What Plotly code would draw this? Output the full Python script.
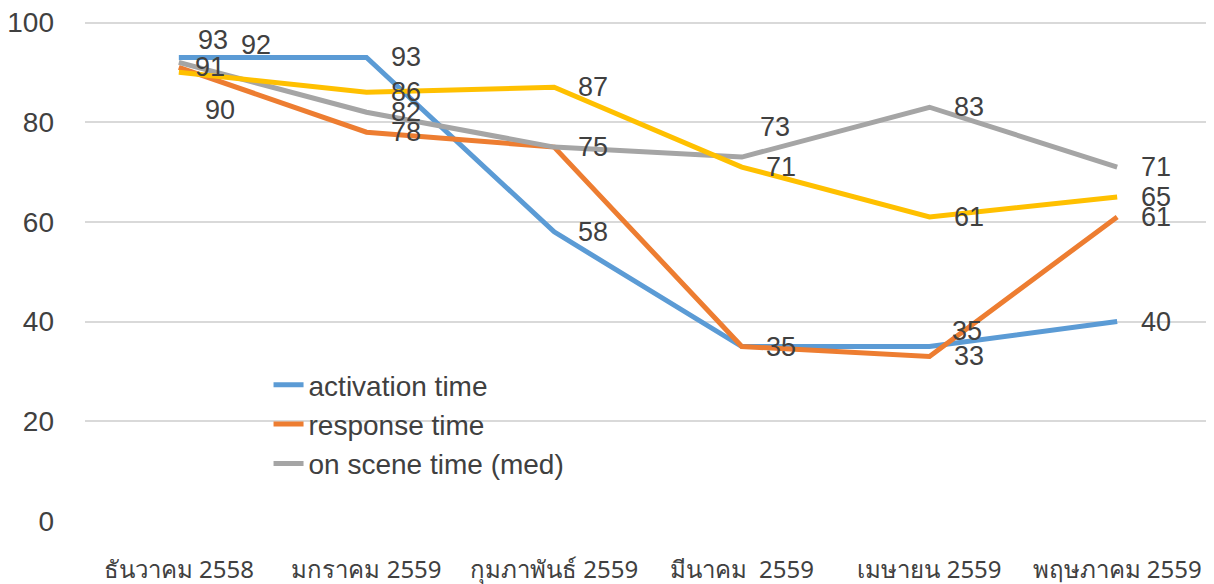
import plotly.graph_objects as go

categories = ["ธันวาคม 2558", "มกราคม 2559", "กุมภาพันธ์ 2559", "มีนาคม  2559", "เมษายน 2559", "พฤษภาคม 2559"]
activation = [93, 93, 58, 35, 35, 40]
response = [91, 78, 75, 35, 33, 61]
on_scene = [92, 82, 75, 73, 83, 71]
other = [90, 86, 87, 71, 61, 65]

series = [
    ("activation time", activation, "#5B9BD5", True),
    ("response time", response, "#ED7D31", True),
    ("on scene time (med)", on_scene, "#A5A5A5", True),
    ("other", other, "#FFC000", False),
]

# label offsets (xshift, yshift) per series per point; None = hidden
default = (22, 0)
label_offsets = {
    "activation time": [(17, 17), default, default, default, (20, 16), default],
    "response time": [(14, 0), default, None, None, default, default],
    "on scene time (med)": [(60, 17), default, default, (16, 30), default, default],
    "other": [(24, -38), default, default, default, default, default],
}

FONT = "Liberation Sans, Arial, sans-serif"
TXT = "#404040"

fig = go.Figure()
annotations = []
for name, vals, color, show in series:
    fig.add_trace(go.Scatter(
        x=categories, y=vals, mode="lines", name=name,
        line=dict(color=color, width=5), showlegend=show,
    ))
    for i, v in enumerate(vals):
        off = label_offsets[name][i]
        if off is None:
            continue
        annotations.append(dict(
            x=categories[i], y=v, text=str(v), showarrow=False,
            xanchor="left", yanchor="middle", xshift=off[0], yshift=off[1],
            font=dict(family=FONT, size=27, color=TXT),
        ))

fig.update_layout(
    width=1214, height=584,
    margin=dict(l=77, r=11, t=13, b=71),
    paper_bgcolor="white", plot_bgcolor="white",
    font=dict(family=FONT, color=TXT, size=26),
    annotations=annotations,
    legend=dict(
        x=0.163, y=0.322, xanchor="left", yanchor="top",
        bgcolor="rgba(0,0,0,0)", font=dict(family=FONT, size=28, color=TXT),
        tracegroupgap=0, itemwidth=30,
    ),
    xaxis=dict(
        range=[-0.5, 5.5], automargin=False,
        showgrid=False, showline=False, zeroline=False,
        tickfont=dict(family="Noto Sans, Liberation Sans, sans-serif", size=24, color=TXT),
        ticklabelstandoff=32,
    ),
    yaxis=dict(
        range=[0, 100.3], tickvals=[0, 20, 40, 60, 80, 100],
        showgrid=True, gridcolor="#D9D9D9", gridwidth=2,
        zeroline=False, showline=False, automargin=False,
        tickfont=dict(family=FONT, size=28, color=TXT),
        ticklabelstandoff=30, ticklabeloverflow="allow",
    ),
)

fig.write_html("out.html")
